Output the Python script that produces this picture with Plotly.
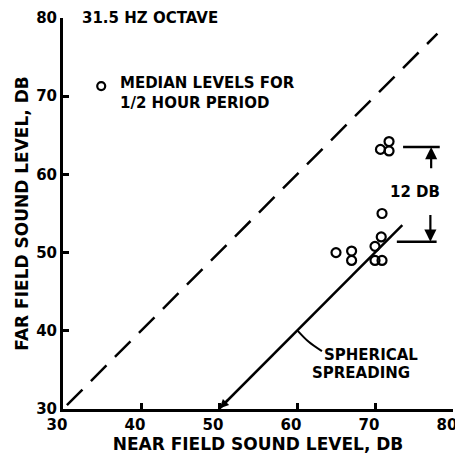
import plotly.graph_objects as go

# median levels for 1/2 hour period (near field, far field)
near_db = [65.0, 67.0, 67.0, 70.0, 70.9, 70.0, 70.8, 70.9, 70.7, 71.8, 71.8]
far_db = [50.0, 50.2, 49.0, 49.0, 49.0, 50.8, 52.0, 55.0, 63.2, 64.2, 63.0]

equal_x = [30.5, 78.0]
equal_y = [30.5, 78.0]
spread_x = [50.0, 73.5]
spread_y = [30.0, 53.5]

x_ticks = [30, 40, 50, 60, 70, 80]
y_ticks = [30, 40, 50, 60, 70, 80]

font = dict(family="DejaVu Sans", size=15, color="black", weight="bold")
title_font = dict(family="DejaVu Sans", size=17, color="black", weight="bold")

fig = go.Figure()

fig.add_trace(go.Scatter(x=equal_x, y=equal_y, mode="lines",
                         line=dict(color="black", width=2.5, dash="22px,12px"),
                         showlegend=False))
fig.add_trace(go.Scatter(x=spread_x, y=spread_y, mode="lines",
                         line=dict(color="black", width=2.5), showlegend=False))
fig.add_trace(go.Scatter(x=near_db, y=far_db, mode="markers",
                         marker=dict(symbol="circle-open", size=9, color="black",
                                     line=dict(width=2.2)),
                         showlegend=False))
# legend symbol
fig.add_trace(go.Scatter(x=[34.9], y=[71.3], mode="markers",
                         marker=dict(symbol="circle-open", size=8, color="black",
                                     line=dict(width=2.2)),
                         showlegend=False))

# 12 dB bracket lines
fig.add_trace(go.Scatter(x=[73.6, 78.3], y=[63.5, 63.5], mode="lines",
                         line=dict(color="black", width=2.5), showlegend=False))
fig.add_trace(go.Scatter(x=[72.8, 77.9], y=[51.4, 51.4], mode="lines",
                         line=dict(color="black", width=2.5), showlegend=False))

arrow = dict(showarrow=True, arrowhead=2, arrowsize=1.1, arrowwidth=2.2,
             arrowcolor="black", axref="x", ayref="y", text="")
fig.add_annotation(x=77.2, y=63.5, ax=77.2, ay=60.6, **arrow)
fig.add_annotation(x=77.1, y=51.4, ax=77.1, ay=55.0, **arrow)
fig.add_annotation(x=50.1, y=30.1, ax=51.3, ay=31.3,
                   **{**arrow, "arrowsize": 0.8})

fig.add_annotation(x=75.1, y=57.7, text="12 DB", showarrow=False, font=font)
fig.add_annotation(x=32.2, y=80, text="31.5 HZ OCTAVE", showarrow=False,
                   xanchor="left", font=font)
fig.add_annotation(x=37.0, y=70.45, text="MEDIAN LEVELS FOR<br>1/2 HOUR PERIOD",
                   showarrow=False, xanchor="left", align="left", font=font)
fig.add_annotation(x=69.5, y=36.9, text="SPHERICAL", showarrow=False, font=font)
fig.add_annotation(x=68.2, y=34.6, text="SPREADING", showarrow=False, font=font)
# leader from label to the spreading line
fig.add_trace(go.Scatter(x=[60.1, 61.5, 63.2], y=[40.0, 38.6, 37.4], mode="lines",
                         line=dict(color="black", width=2, shape="spline"),
                         showlegend=False))

axis = dict(showgrid=False, zeroline=False, showline=True, linecolor="black",
            linewidth=3, ticks="inside", ticklen=6, tickwidth=2.5, tickcolor="black",
            tickfont=font, mirror=False, automargin=False, ticklabeloverflow="allow")

# the page body adds an 8px offset, so the figure is shrunk to fit the window
fig.update_layout(
    width=455, height=456,
    margin=dict(l=55, r=10, t=10, b=55),
    paper_bgcolor="white", plot_bgcolor="white",
    xaxis=dict(range=[30, 80], tickvals=x_ticks, ticklabelshift=-6,
               title=dict(text="NEAR FIELD SOUND LEVEL, DB", font=title_font, standoff=2),
               **axis),
    yaxis=dict(range=[30, 80], tickvals=y_ticks,
               title=dict(text="FAR FIELD SOUND LEVEL, DB", font=title_font, standoff=4),
               **axis),
)

fig.write_html("out.html")
